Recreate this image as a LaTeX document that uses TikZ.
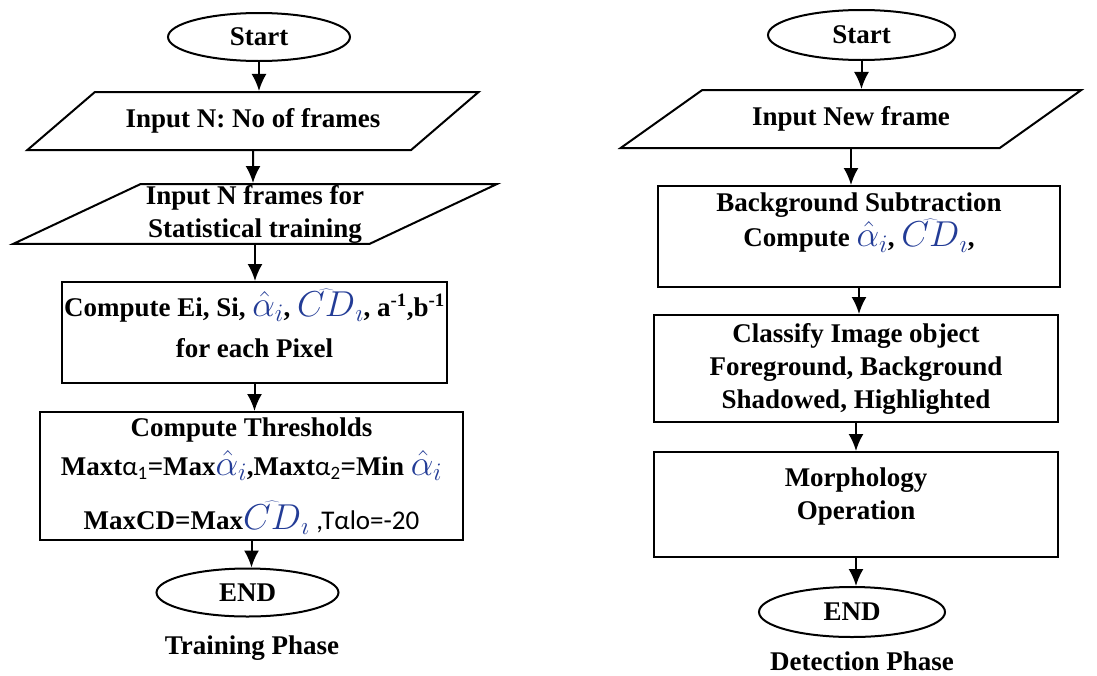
\documentclass[tikz,border=0pt]{standalone}
\usepackage{fix-cm}
\usepackage{fontspec}
\setmainfont{Liberation Serif}
\newfontfamily\calfont{Carlito}
\usetikzlibrary{shapes.geometric,arrows.meta}

\definecolor{mathblue}{RGB}{35,60,150}
\newcommand{\ahat}{{\color{mathblue}\fontsize{36}{36}\selectfont$\hat{\alpha}_i$}}
\newcommand{\cdhat}{{\color{mathblue}\fontsize{36}{36}\selectfont$\widehat{CD}_\imath$}}

\begin{document}
\begin{tikzpicture}[x=1pt, y=-1pt, line width=2pt,
    font=\fontsize{27}{33}\selectfont\bfseries,
    term/.style={draw, ellipse, inner sep=0pt, minimum width=182pt, minimum height=48pt},
    inout/.style={draw, trapezium, trapezium left angle=26, trapezium right angle=154,
        trapezium stretches=true, inner sep=1pt, minimum height=58pt, align=center},
    proc/.style={draw, rectangle, inner sep=2pt, align=center},
    arr/.style={-{Latex[length=17pt,width=15pt]}}]
    \useasboundingbox (0,0) rectangle (1097,675);

    % Training phase
    \node[term] (start1) at (259,37) {Start};
    \node[inout, minimum width=453pt] (in1) at (253,121) {Input N: No of frames};
    \node[inout, minimum width=486pt] (in2) at (255,214) {Input N frames for\\Statistical training};
    \node[proc, minimum width=385pt, minimum height=101pt] (comp1) at (254.5,332.5)
        {Compute Ei, Si, \ahat, \cdhat, a\textsuperscript{-1},b\textsuperscript{-1}\\[8pt]for each Pixel\\[-14pt]~};
    \node[proc, minimum width=423pt, minimum height=128pt] (thr) at (251.5,476)
        {Compute Thresholds\\[6pt]
         Maxt{\calfont\mdseries α\textsubscript{1}}=Max\ahat,Maxt{\calfont\mdseries α\textsubscript{2}}=Min \ahat\\[20pt]
         MaxCD=Max\cdhat\ {\calfont\mdseries,Tαlo=-20}};
    \node[term] (end1) at (247.5,592.5) {END};
    \node (cap1) at (252,648) {Training Phase};

    \draw[arr] (start1) -- (start1 |- in1.north);
    \draw[arr] (in1) -- (in1 |- in2.north);
    \draw[arr] (in2) -- (in2 |- comp1.north);
    \draw[arr] (comp1) -- (comp1 |- thr.north);
    \draw[arr] (thr) -- (thr |- end1.north);

    % Detection phase
    \node[term, minimum width=187pt, minimum height=50pt] (start2) at (861.5,35) {Start};
    \node[inout, minimum width=462pt] (in3) at (851,119) {Input New frame};
    \node[proc, minimum width=402pt, minimum height=101pt] (sub) at (859,236.5)
        {Background Subtraction\\Compute \ahat, \cdhat,\\~};
    \node[proc, minimum width=404pt, minimum height=107pt] (cls) at (856,368.5)
        {Classify Image object\\Foreground, Background\\Shadowed, Highlighted};
    \node[proc, minimum width=404pt, minimum height=105pt] (morph) at (856,504.5)
        {Morphology\\Operation\\[-12pt]~};
    \node[term, minimum width=186pt, minimum height=50pt] (end2) at (852,612) {END};
    \node (cap2) at (862,661) {Detection Phase};

    \draw[arr] (start2) -- (start2 |- in3.north);
    \draw[arr] (in3) -- (in3 |- sub.north);
    \draw[arr] (sub) -- (sub |- cls.north);
    \draw[arr] (cls) -- (cls |- morph.north);
    \draw[arr] (morph) -- (morph |- end2.north);
\end{tikzpicture}
\end{document}
